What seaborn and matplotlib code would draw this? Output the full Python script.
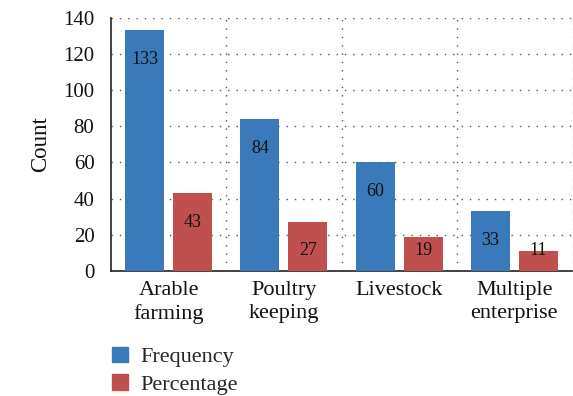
import matplotlib
matplotlib.use("Agg")
import matplotlib.pyplot as plt
import seaborn as sns
import pandas as pd

categories = ["Arable\nfarming", "Poultry\nkeeping", "Livestock", "Multiple\nenterprise"]
frequency = [133, 84, 60, 33]
percentage = [43, 27, 19, 11]
series_names = ["Frequency", "Percentage"]
y_ticks = [0, 20, 40, 60, 80, 100, 120, 140]

sns.set_theme(style="white")
plt.rcParams["font.family"] = ["Liberation Serif", "DejaVu Serif"]

df = pd.DataFrame({
    "category": categories * 2,
    "series": [series_names[0]] * len(categories) + [series_names[1]] * len(categories),
    "value": frequency + percentage,
})

palette = {"Frequency": "#3b7aba", "Percentage": "#c0504e"}

fig = plt.figure(figsize=(5.73, 3.96), dpi=100)
ax = fig.add_axes([0.194, 0.316, 0.804, 0.639])

sns.barplot(data=df, x="category", y="value", hue="series", order=categories,
            hue_order=series_names, palette=palette, width=0.835, gap=0.19,
            saturation=1, linewidth=0, edgecolor="none", legend=False, ax=ax, zorder=3)

# value labels inside bars, a little below the top
for cont in ax.containers:
    for bar in cont:
        v = bar.get_height()
        ypos = max(v - 16.2, 11.4)
        ax.text(bar.get_x() + bar.get_width() / 2, ypos, f"{v:.0f}",
                ha="center", va="center", fontsize=13, color="#111111", zorder=4)

ax.set_xlim(-0.5, 3.5)
ax.set_ylim(0, 140)
ax.set_yticks(y_ticks)
ax.tick_params(axis="y", labelsize=15, length=6, width=1.2, direction="out",
               colors="#222222", labelcolor="#111111", pad=6)
ax.tick_params(axis="x", labelsize=16, length=0, pad=7, colors="#111111")
for lbl in ax.get_xticklabels():
    lbl.set_linespacing(1.32)
ax.set_xlabel("")
ax.set_ylabel("Count", fontsize=16.5, color="#111111", labelpad=9)

# dotted grid: horizontal at ticks, vertical between categories
for y in y_ticks[1:]:
    ax.axhline(y, color="#555555", lw=1, ls=(0, (1, 5)), zorder=1)
for x in [0.5, 1.5, 2.5, 3.5]:
    ax.axvline(x, color="#555555", lw=1, ls=(0, (1, 5)), zorder=1)

for side in ["top", "right"]:
    ax.spines[side].set_visible(False)
for side in ["left", "bottom"]:
    ax.spines[side].set_color("#222222")
    ax.spines[side].set_linewidth(1.2)

handles = [plt.Rectangle((0, 0), 1, 1, color=palette[s]) for s in series_names]
fig.legend(handles, series_names, loc="upper left", bbox_to_anchor=(0.195, 0.125),
           frameon=False, fontsize=16, handlelength=0.72, handleheight=0.72,
           handletextpad=0.59, labelspacing=0.32, borderaxespad=0, borderpad=0)

fig.savefig("out.png", dpi=100)
